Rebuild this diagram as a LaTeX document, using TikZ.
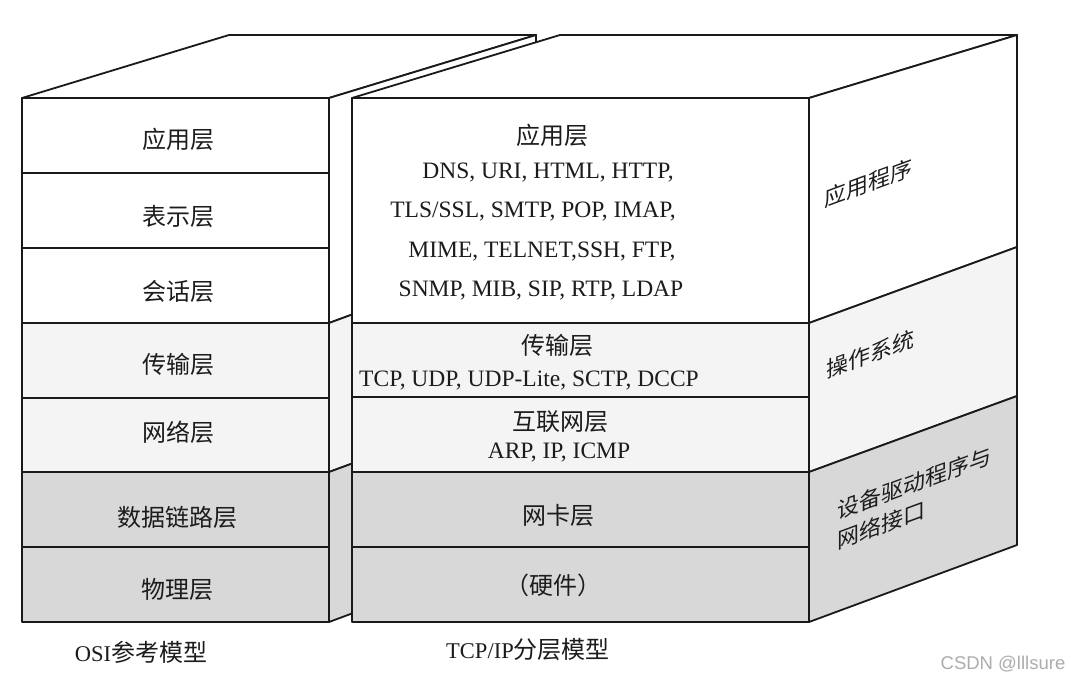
\documentclass[tikz,border=0pt]{standalone}
\usepackage{fontspec}
\setmainfont{Liberation Serif}
\newfontfamily\cjk{Noto Sans CJK SC}
\newfontfamily\wmfont{Liberation Sans}
\newcommand{\myzh}[1]{{\cjk\fontsize{24}{28}\selectfont #1}}
\definecolor{lightf}{HTML}{F4F4F4}
\definecolor{greyf}{HTML}{D8D8D8}
\definecolor{txt}{HTML}{1C1C1C}
\definecolor{edgec}{HTML}{1A1A1A}
\begin{document}
\begin{tikzpicture}[x=1pt,y=-1pt,
  edge/.style={draw=edgec, line width=1.8pt, line join=round},
  cn/.style={font=\cjk\fontsize{24}{28}\selectfont, text=txt, inner sep=0pt},
  en/.style={font=\fontsize{23.5}{26}\selectfont, text=txt, inner sep=0pt},
  sidetxt/.style={font=\cjk\fontsize{22}{30}\selectfont, text=txt, inner sep=0pt, yslant=0.37, align=left},
  captxt/.style={font=\fontsize{22.5}{26}\selectfont, text=txt, inner sep=0pt}
]
\fill[white] (0,0) rectangle (1071,681);
\useasboundingbox (0,0) rectangle (1071,681);

% ---------- left box (OSI) ----------
\draw[edge,fill=white] (22,98) -- (329,98) -- (536,35) -- (229,35) -- cycle;
\draw[edge,fill=white]  (329,98)  -- (536,35)  -- (536,247) -- (329,323) -- cycle;
\draw[edge,fill=lightf] (329,323) -- (536,247) -- (536,396) -- (329,472) -- cycle;
\draw[edge,fill=greyf]  (329,472) -- (536,396) -- (536,545) -- (329,622) -- cycle;

\draw[edge,fill=white]  (22,98)  rectangle (329,173);
\draw[edge,fill=white]  (22,173) rectangle (329,248);
\draw[edge,fill=white]  (22,248) rectangle (329,323);
\draw[edge,fill=lightf] (22,323) rectangle (329,398);
\draw[edge,fill=lightf] (22,398) rectangle (329,472);
\draw[edge,fill=greyf]  (22,472) rectangle (329,547);
\draw[edge,fill=greyf]  (22,547) rectangle (329,622);

% ---------- right box (TCP/IP) ----------
\draw[edge,fill=white] (352,98) -- (809,98) -- (1017,35) -- (560,35) -- cycle;
\draw[edge,fill=white]  (809,98)  -- (1017,35)  -- (1017,247) -- (809,323) -- cycle;
\draw[edge,fill=lightf] (809,323) -- (1017,247) -- (1017,396) -- (809,472) -- cycle;
\draw[edge,fill=greyf]  (809,472) -- (1017,396) -- (1017,545) -- (809,622) -- cycle;

\draw[edge,fill=white]  (352,98)  rectangle (809,323);
\draw[edge,fill=lightf] (352,323) rectangle (809,397);
\draw[edge,fill=lightf] (352,397) rectangle (809,472);
\draw[edge,fill=greyf]  (352,472) rectangle (809,547);
\draw[edge,fill=greyf]  (352,547) rectangle (809,622);

% ---------- OSI labels ----------
\node[cn] (o1) at (178,139) {应用层};
\node[cn] (o2) at (178,216) {表示层};
\node[cn] (o3) at (178,291) {会话层};
\node[cn] (o4) at (178,364) {传输层};
\node[cn] (o5) at (178,432) {网络层};
\node[cn] (o6) at (177,517) {数据链路层};
\node[cn] (o7) at (177,589) {物理层};

% ---------- TCP/IP labels ----------
\node[cn] (t1) at (552,135) {应用层};
\node[en] (t1a) at (548,173) {DNS, URI, HTML, HTTP,};
\node[en] (t1b) at (533,212) {TLS/SSL, SMTP, POP, IMAP,};
\node[en] (t1c) at (542,252) {MIME, TELNET,SSH, FTP,};
\node[en] (t1d) at (541,291) {SNMP, MIB, SIP, RTP, LDAP};
\node[cn] (t2) at (557,345) {传输层};
\node[en] (t2a) at (529,381) {TCP, UDP, UDP-Lite, SCTP, DCCP};
\node[cn] (t3) at (560,422) {互联网层};
\node[en] (t3a) at (559,453) {ARP, IP, ICMP};
\node[cn] (t4) at (558,515) {网卡层};
\node[cn] (t5) at (553,585) {（硬件）};

% ---------- side labels ----------
\node[sidetxt] (s1) at (868,183) {应用程序};
\node[sidetxt] (s2) at (870,354) {操作系统};
\node[sidetxt] (s3) at (914,498) {设备驱动程序与\\网络接口};

% ---------- captions ----------
\node[captxt] (c1) at (141,652) {OSI\myzh{参考模型}};
\node[captxt] (c2) at (528,649) {TCP/IP\myzh{分层模型}};
\node[font=\wmfont\fontsize{18.5}{20}\selectfont, text=black!32, inner sep=0pt] (wm) at (1003,664) {CSDN @lllsure};
\end{tikzpicture}
\end{document}
